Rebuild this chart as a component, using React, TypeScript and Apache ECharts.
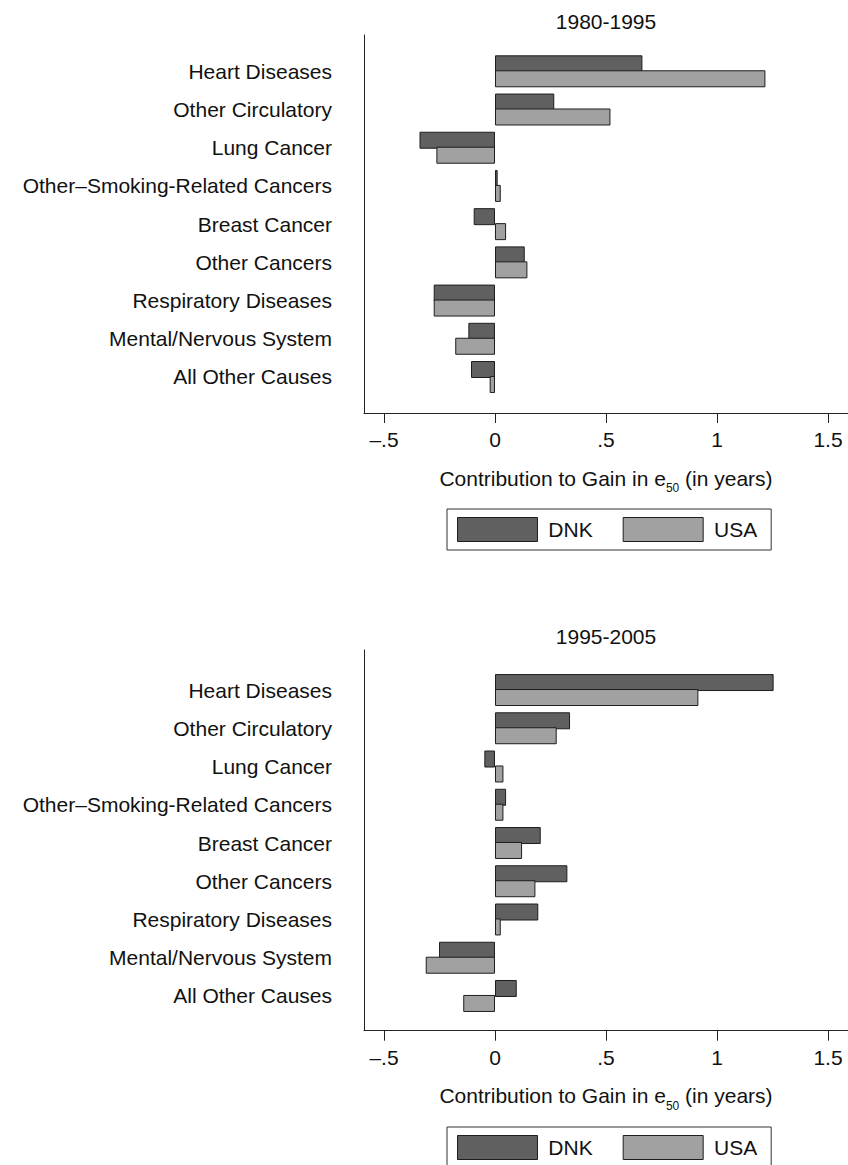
import React, { useEffect, useRef } from "react";
import * as echarts from "echarts";

const categories = [
  "Heart Diseases",
  "Other Circulatory",
  "Lung Cancer",
  "Other–Smoking-Related Cancers",
  "Breast Cancer",
  "Other Cancers",
  "Respiratory Diseases",
  "Mental/Nervous System",
  "All Other Causes",
];

const panelTitles = ["1980-1995", "1995-2005"];
const seriesNames = ["DNK", "USA"];

const dnk1980 = [0.664, 0.267, -0.34, 0.012, -0.096, 0.134, -0.276, -0.12, -0.108];
const usa1980 = [1.218, 0.52, -0.264, 0.026, 0.05, 0.146, -0.276, -0.179, -0.024];
const dnk1995 = [1.255, 0.338, -0.048, 0.05, 0.206, 0.326, 0.195, -0.252, 0.098];
const usa1995 = [0.916, 0.278, 0.038, 0.038, 0.122, 0.182, 0.026, -0.312, -0.143];

const tickValues = [-0.5, 0, 0.5, 1, 1.5];
const tickLabels = ["–.5", "0", ".5", "1", "1.5"];

const FONT = '"Liberation Sans", Arial, Helvetica, sans-serif';
const FS = 21;
const TXT = "#111";
const AX = "#222";
const C_DNK = "#606060";
const C_USA = "#a1a1a1";

export default function App() {
  const ref = useRef<HTMLDivElement>(null);

  useEffect(() => {
    document.body.style.margin = "0";
    if (!ref.current) return;
    const chart = echarts.init(ref.current, null, { renderer: "svg" });

    const X_MIN = -0.59;
    const X_MAX = 1.59;
    const LEFT = 364;

    const panels = [
      { frameTop: 35, frameBottom: 413, barTop: 52.2, barBottom: 396.1, titleY: 21, legendTop: 509, data: [dnk1980, usa1980] },
      { frameTop: 650, frameBottom: 1030.7, barTop: 670.9, barBottom: 1015.1, titleY: 636.5, legendTop: 1127, data: [dnk1995, usa1995] },
    ];

    const grid: any[] = [];
    const xAxis: any[] = [];
    const yAxis: any[] = [];
    const series: any[] = [];
    const legend: any[] = [];
    const graphic: any[] = [];

    panels.forEach((p, pi) => {
      const fi = grid.length;
      grid.push({ left: LEFT, right: 0, top: p.frameTop, height: p.frameBottom - p.frameTop, containLabel: false });
      const bi = grid.length;
      grid.push({ left: LEFT, right: 0, top: p.barTop, height: p.barBottom - p.barTop, containLabel: false });

      xAxis.push({
        gridIndex: fi,
        type: "value",
        min: X_MIN,
        max: X_MAX,
        splitLine: { show: false },
        axisLine: { show: true, onZero: false, lineStyle: { color: AX, width: 1 } },
        axisTick: { show: true, inside: false, length: 10, lineStyle: { color: AX }, customValues: tickValues },
        axisLabel: {
          show: true,
          customValues: tickValues,
          margin: 16,
          fontSize: FS,
          fontFamily: FONT,
          color: TXT,
          formatter: (v: number) => {
            const i = tickValues.findIndex((t) => Math.abs(t - v) < 1e-9);
            return i >= 0 ? tickLabels[i] : "";
          },
        },
        name: "Contribution to Gain in e{sub|50} (in years)",
        nameLocation: "middle",
        nameGap: 53,
        nameTextStyle: {
          fontSize: FS,
          fontFamily: FONT,
          color: TXT,
          lineHeight: 24,
          rich: {
            sub: { fontSize: 12, lineHeight: 12, padding: [20, 0, 0, 0], fontFamily: FONT, color: TXT },
          },
        },
      });
      yAxis.push({
        gridIndex: fi,
        type: "value",
        min: 0,
        max: 1,
        splitLine: { show: false },
        axisLine: { show: true, onZero: false, lineStyle: { color: AX, width: 1 } },
        axisTick: { show: false },
        axisLabel: { show: false },
      });

      xAxis.push({
        gridIndex: bi,
        type: "value",
        min: X_MIN,
        max: X_MAX,
        show: false,
        splitLine: { show: false },
      });
      yAxis.push({
        gridIndex: bi,
        type: "category",
        inverse: true,
        data: categories,
        axisLine: { show: false },
        axisTick: { show: false },
        splitLine: { show: false },
        axisLabel: { margin: 32, fontSize: FS, fontFamily: FONT, color: TXT },
      });

      seriesNames.forEach((nm, si) => {
        series.push({
          type: "bar",
          name: nm,
          xAxisIndex: bi,
          yAxisIndex: bi,
          data: p.data[si],
          barWidth: 17,
          barGap: "-12%",
          itemStyle: { color: si === 0 ? C_DNK : C_USA, borderColor: "#1e1e1e", borderWidth: 1 },
          emphasis: { disabled: true },
        });
      });

      legend.push({
        data: seriesNames,
        left: 447,
        top: p.legendTop,
        orient: "horizontal",
        itemWidth: 80,
        itemHeight: 24,
        itemGap: 30,
        padding: [8, 14, 8, 10],
        borderColor: "#333",
        borderWidth: 1,
        borderRadius: 0,
        icon: "rect",
        selectedMode: false,
        formatter: (n: string) => " " + n,
        itemStyle: { borderColor: "#1e1e1e", borderWidth: 1 },
        textStyle: { fontSize: FS, fontFamily: FONT, color: TXT },
      });

      graphic.push({
        type: "text",
        x: 606,
        y: p.titleY,
        style: {
          text: panelTitles[pi],
          align: "center",
          verticalAlign: "middle",
          fontSize: FS,
          fontFamily: FONT,
          fill: TXT,
        },
      });
    });

    chart.setOption({
      animation: false,
      backgroundColor: "#fff",
      grid,
      xAxis,
      yAxis,
      series,
      legend,
      graphic,
      tooltip: { show: false },
    });

    return () => chart.dispose();
  }, []);

  return <div ref={ref} style={{ width: 848, height: 1165, background: "#fff" }} />;
}
